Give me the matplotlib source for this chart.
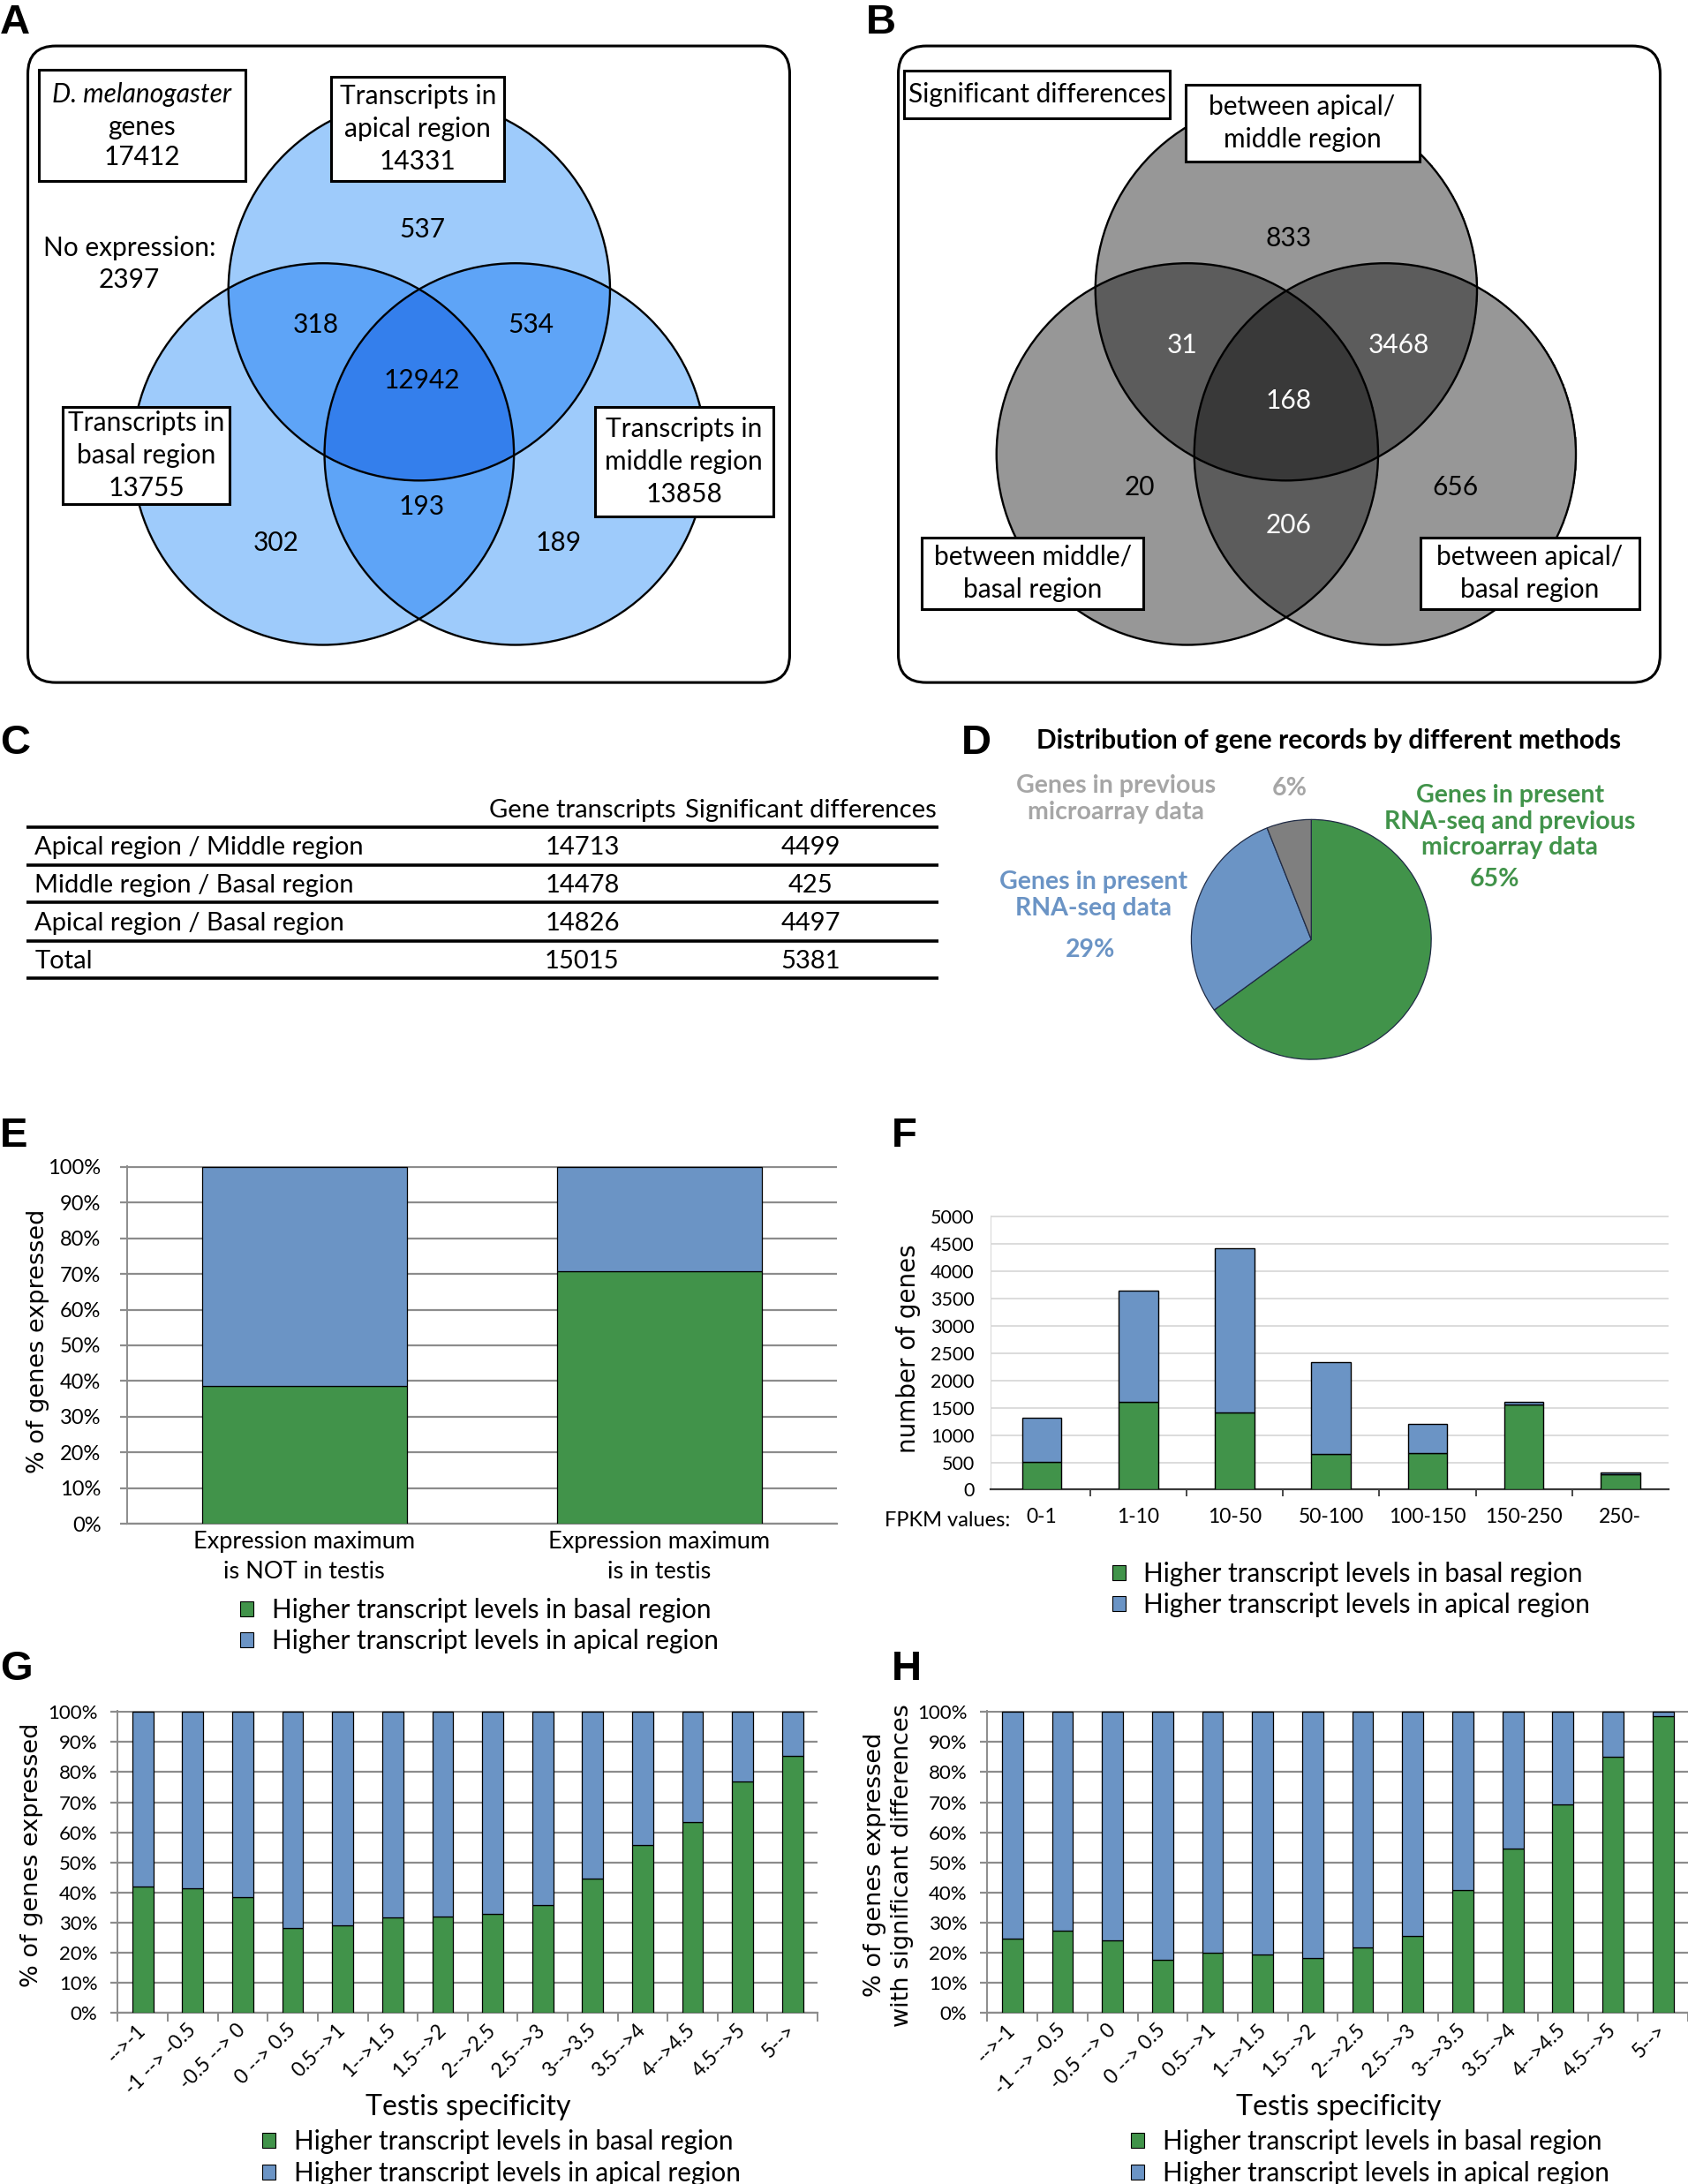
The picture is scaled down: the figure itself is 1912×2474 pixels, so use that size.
import numpy as np
import matplotlib
matplotlib.use('Agg')
import matplotlib.pyplot as plt
from matplotlib.patches import Circle, FancyBboxPatch, Rectangle, Patch
from matplotlib.colors import to_rgba

# layout measured on a 1212 px wide copy of the figure -> one overlay axes in those units
W, H = 1912, 2474
RW, RH = 1212, 1568

plt.rcParams['font.family'] = ['Lato', 'DejaVu Sans']

GREEN = '#41934a'
BLUE = '#6b94c5'
GRAY = '#7f7f7f'

# ---------------- data ----------------
# A: transcripts per region (top = apical, left = basal, right = middle)
a_sets = ['Transcripts in\napical region\n14331',
          'Transcripts in\nbasal region\n13755',
          'Transcripts in\nmiddle region\n13858']
# order: top, top+left, top+right, all, left, left+right, right
a_counts = [537, 318, 534, 12942, 302, 193, 189]
a_genes = 17412
a_none = 2397

# B: significant differences (top = apical/middle, left = middle/basal, right = apical/basal)
b_sets = ['between apical/\nmiddle region',
          'between middle/\nbasal region',
          'between apical/\nbasal region']
b_counts = [833, 31, 3468, 168, 20, 206, 656]

# C: table
c_pairs = ['Apical region / Middle region', 'Middle region / Basal region',
           'Apical region / Basal region', 'Total']
c_transcripts = [14713, 14478, 14826, 15015]
c_significant = [4499, 425, 4497, 5381]

# D: pie
d_labels = ['Genes in present\nRNA-seq and previous\nmicroarray data',
            'Genes in present\nRNA-seq data',
            'Genes in previous\nmicroarray data']
d_shares = [65, 29, 6]

# E
e_cats = ['Expression maximum\nis NOT in testis', 'Expression maximum\nis in testis']
e_basal = [38.5, 70.8]

# F
f_cats = ['0-1', '1-10', '10-50', '50-100', '100-150', '150-250', '250-']
f_basal = [510, 1605, 1415, 650, 670, 1565, 280]
f_apical = [810, 2040, 3005, 1690, 540, 50, 35]

# G / H
spec_bins = ['-->-1', '-1 --> -0.5', '-0.5 --> 0', '0 --> 0.5', '0.5-->1', '1-->1.5',
             '1.5-->2', '2-->2.5', '2.5-->3', '3-->3.5', '3.5-->4', '4-->4.5',
             '4.5-->5', '5-->']
g_basal = [42.0, 41.4, 38.3, 28.2, 29.0, 31.6, 32.0, 33.0, 35.7, 44.6, 55.7, 63.4, 76.8, 85.4]
h_basal = [24.5, 27.4, 24.1, 17.5, 20.0, 19.5, 18.2, 21.8, 25.5, 40.8, 54.5, 69.3, 85.1, 98.7]

leg_labels = ['Higher transcript levels in basal region',
              'Higher transcript levels in apical region']

# ---------------- figure ----------------
fig = plt.figure(figsize=(W / 100, H / 100), dpi=100)
ax0 = fig.add_axes([0, 0, 1, 1])
ax0.set_axis_off()


def px_axes(x0, x1, y_top, y_bot):
    return fig.add_axes([x0 / RW, 1 - y_bot / RH, (x1 - x0) / RW, (y_bot - y_top) / RH])


VS = 21.5  # venn text size
YL = 19.5  # y label size (DejaVu)
LG = 21.4  # legend size


def venn(centers, r, shades, area):
    x0, x1, y0, y1 = area
    xs = np.arange(x0, x1, 0.4)
    ys = np.arange(y0, y1, 0.4)
    xx, yy = np.meshgrid(xs, ys)
    depth = np.zeros(xx.shape, dtype=int)
    for cx, cy in centers:
        depth += ((xx - cx) ** 2 + (yy - cy) ** 2 <= r * r).astype(int)
    img = np.zeros(xx.shape + (4,))
    for k, col in enumerate(shades, start=1):
        img[depth == k] = to_rgba(col)
    ax0.imshow(img, extent=(x0, x1, y1, y0), origin='upper', interpolation='nearest',
               aspect='auto', zorder=1)
    for cx, cy in centers:
        ax0.add_patch(Circle((cx, cy), r, fill=False, ec='black', lw=1.7, zorder=2))


def box(x0, y0, x1, y1, text=None, **kw):
    ax0.add_patch(Rectangle((x0, y0), x1 - x0, y1 - y0, fc='white', ec='black', lw=2.2, zorder=3))
    if text is not None:
        ax0.text((x0 + x1) / 2, (y0 + y1) / 2, text, ha='center', va='center', zorder=4,
                 fontsize=VS, linespacing=1.38, **kw)


def letter(x, y, s):
    ax0.text(x, y, s, fontsize=34, fontweight='bold', family='Liberation Sans',
             ha='left', va='baseline')


# ---- A ----
letter(0, 24, 'A')
ax0.add_patch(FancyBboxPatch((20, 33), 547, 457, boxstyle='round,pad=0,rounding_size=20',
                             fc='none', ec='black', lw=2.2))
venn([(301, 208), (232, 326), (370, 326)], 137,
     ['#9ecbfb', '#5ea4f7', '#347fec'], (85, 520, 60, 475))
a_pos = [(303, 165), (227, 233), (381, 233), (303, 273), (198, 390), (303, 364), (401, 390)]
for (x, y), v in zip(a_pos, a_counts):
    ax0.text(x, y, str(v), ha='center', va='center', fontsize=VS, zorder=4)
box(28, 50, 176, 130)
ax0.text(102, 68, 'D. melanogaster', ha='center', va='center', fontsize=VS, style='italic', zorder=4)
ax0.text(102, 91, 'genes', ha='center', va='center', fontsize=VS, zorder=4)
ax0.text(102, 113, str(a_genes), ha='center', va='center', fontsize=VS, zorder=4)
box(238, 55, 362, 130, a_sets[0])
box(45, 292, 165, 362, a_sets[1])
box(427, 292, 555, 371, a_sets[2])
ax0.text(93, 189.5, 'No expression:\n%d' % a_none, ha='center', va='center', fontsize=VS,
         linespacing=1.32)

# ---- B ----
letter(622, 24, 'B')
ax0.add_patch(FancyBboxPatch((645, 33), 547, 457, boxstyle='round,pad=0,rounding_size=20',
                             fc='none', ec='black', lw=2.2))
venn([(923.5, 208), (852.5, 326), (994.5, 326)], 137,
     ['#979797', '#5c5c5c', '#393939'], (705, 1145, 60, 475))
b_pos = [(925, 171), (849, 248), (1004, 248), (925, 288), (818, 350), (925, 377), (1045, 350)]
b_white = [False, True, True, True, False, True, False]
for (x, y), v, wh in zip(b_pos, b_counts, b_white):
    ax0.text(x, y, str(v), ha='center', va='center', fontsize=VS, zorder=4,
             color='white' if wh else 'black')
box(649, 51, 840, 85, 'Significant differences')
box(851, 61, 1019, 116, b_sets[0])
box(662, 386, 821, 437, b_sets[1])
box(1020, 386, 1177, 437, b_sets[2])

# ---- C ----
letter(0, 541, 'C')
TS = 21
ax0.text(418, 582, 'Gene transcripts', ha='center', va='center', fontsize=TS)
ax0.text(582, 582, 'Significant differences', ha='center', va='center', fontsize=TS)
for yl in [594, 621, 648, 675.5, 702.5]:
    ax0.plot([19, 674], [yl, yl], color='black', lw=2.6, solid_capstyle='butt')
row_y = [608.5, 636, 663, 690]
for y, name, t, s in zip(row_y, c_pairs, c_transcripts, c_significant):
    ax0.text(25, y, name, ha='left', va='center', fontsize=TS)
    ax0.text(418, y, str(t), ha='center', va='center', fontsize=TS)
    ax0.text(582, y, str(s), ha='center', va='center', fontsize=TS)

# ---- D ----
letter(690, 541, 'D')
ax0.text(954, 532, 'Distribution of gene records by different methods', ha='center',
         va='center', fontsize=21.5, fontweight='bold')
axp = px_axes(854.5, 1028.5, 587.5, 761.5)
axp.pie(d_shares, colors=[GREEN, BLUE, GRAY], startangle=90, counterclock=False,
        wedgeprops=dict(edgecolor='#1f2a44', linewidth=0.9))
axp.set_xlim(-1.01, 1.01)
axp.set_ylim(-1.01, 1.01)
PS = 20.5
PL = 1.17
ax0.text(1084, 590, d_labels[0], ha='center', va='center', fontsize=PS, fontweight='bold',
         color=GREEN, linespacing=PL)
ax0.text(1073, 631, '%d%%' % d_shares[0], ha='center', va='center', fontsize=PS,
         fontweight='bold', color=GREEN)
ax0.text(785, 642.5, d_labels[1], ha='center', va='center', fontsize=PS, fontweight='bold',
         color=BLUE, linespacing=PL)
ax0.text(783, 682, '%d%%' % d_shares[1], ha='center', va='center', fontsize=PS,
         fontweight='bold', color=BLUE)
ax0.text(801, 573.5, d_labels[2], ha='center', va='center', fontsize=PS, fontweight='bold',
         color='#a6a6a6', linespacing=PL)
ax0.text(926, 566, '%d%%' % d_shares[2], ha='center', va='center', fontsize=PS,
         fontweight='bold', color='#a6a6a6')


# ---- helpers for the bar panels ----
def legend(ax, x, y, size):
    handles = [Patch(fc=GREEN, ec='black', lw=0.8), Patch(fc=BLUE, ec='black', lw=0.8)]
    ax.legend(handles, leg_labels, loc='upper left', bbox_to_anchor=(x, y),
              bbox_transform=ax0.transData, frameon=False, borderpad=0, borderaxespad=0,
              handlelength=0.5, handleheight=0.5, handletextpad=0.7, labelspacing=0.25,
              fontsize=size)


def pct_panel(ax, cats, basal, width, pad, xsize, ysize):
    x = np.arange(len(cats))
    b = np.asarray(basal) / 100.0
    ax.bar(x, b, width, color=GREEN, edgecolor='black', lw=0.9, zorder=3)
    ax.bar(x, 1 - b, width, bottom=b, color=BLUE, edgecolor='black', lw=0.9, zorder=3)
    ax.set_xlim(-0.5, len(cats) - 0.5)
    ax.set_ylim(0, 1.003)
    ticks = np.arange(0, 11) / 10
    ax.set_yticks(ticks, ['%d%%' % (10 * i) for i in range(11)])
    ax.yaxis.grid(True, color='#8c8c8c', lw=1.6, zorder=0)
    ax.set_axisbelow(True)
    for s in ['top', 'right']:
        ax.spines[s].set_visible(False)
    ax.spines['left'].set_color('#8c8c8c')
    ax.spines['bottom'].set_color('#8c8c8c')
    ax.spines['left'].set_linewidth(1.4)
    ax.spines['bottom'].set_linewidth(1.6)
    ax.tick_params(axis='y', length=6, width=1.6, color='#8c8c8c', pad=pad, labelsize=ysize)
    ax.tick_params(axis='x', labelsize=xsize)
    return x


# ---- E ----
letter(0, 823, 'E')
axE = px_axes(91, 601, 837, 1094)
xE = pct_panel(axE, e_cats, e_basal, 0.576, 15, 19.5, 17)
axE.set_xticks(xE, e_cats)
axE.tick_params(axis='x', length=0, pad=6)
for t in axE.get_xticklabels():
    t.set_linespacing(1.42)
ax0.text(27, 963, '% of genes expressed', rotation=90, ha='center', va='center',
         fontsize=YL, family='DejaVu Sans')
legend(axE, 172.5, 1147, LG)

# ---- F ----
letter(640, 823, 'F')
axF = px_axes(711, 1198, 873, 1069.5)
xF = np.arange(len(f_cats))
axF.bar(xF, f_basal, 0.41, color=GREEN, edgecolor='black', lw=1.0, zorder=3)
axF.bar(xF, f_apical, 0.41, bottom=f_basal, color=BLUE, edgecolor='black', lw=1.0, zorder=3)
axF.set_xlim(-0.535, 6.5)
axF.set_ylim(0, 5010)
axF.set_yticks(np.arange(0, 5001, 500))
axF.yaxis.grid(True, color='#d9d9d9', lw=1.3, zorder=0)
axF.set_axisbelow(True)
for s in ['top', 'right']:
    axF.spines[s].set_visible(False)
axF.spines['left'].set_color('#d9d9d9')
axF.spines['bottom'].set_color('#3a3a3a')
axF.spines['bottom'].set_linewidth(1.6)
axF.set_xticks(xF, f_cats)
axF.set_xticks(xF[:-1] + 0.5, minor=True)
axF.tick_params(axis='x', which='major', length=0, pad=15, labelsize=16.5)
axF.tick_params(axis='x', which='minor', length=6, width=1.3, color='#3a3a3a')
axF.tick_params(axis='y', length=0, pad=13, labelsize=15.5)
ax0.text(680, 1091.5, 'FPKM values:', ha='center', va='center', fontsize=17)
ax0.text(652, 968, 'number of genes', rotation=90, ha='center', va='center',
         fontsize=20, family='DejaVu Sans')
legend(axF, 798.5, 1121, LG)


# ---- G / H ----
def spec_panel(ax, basal):
    x = pct_panel(ax, spec_bins, basal, 0.42, 10.5, 16.5, 16)
    ax.set_xticks(x, spec_bins, rotation=45, ha='right', va='center', rotation_mode='anchor')
    ax.set_xticks(np.arange(-0.5, len(spec_bins)), minor=True)
    ax.tick_params(axis='x', which='major', length=0, pad=12)
    ax.tick_params(axis='x', which='minor', length=7, width=1.4, color='#8c8c8c')


letter(0, 1206, 'G')
axG = px_axes(84.6, 587, 1228.5, 1445)
spec_panel(axG, g_basal)
ax0.text(336, 1513, 'Testis specificity', ha='center', va='center', fontsize=23)
ax0.text(23, 1332, '% of genes expressed', rotation=90, ha='center', va='center',
         fontsize=YL, family='DejaVu Sans')
legend(axG, 188.5, 1529, LG)

letter(640, 1206, 'H')
axH = px_axes(709, 1212, 1228.5, 1445)
spec_panel(axH, h_basal)
ax0.text(961, 1513, 'Testis specificity', ha='center', va='center', fontsize=23)
ax0.text(638, 1339, '% of genes expressed\nwith significant differences', rotation=90,
         ha='center', va='center', fontsize=YL, family='DejaVu Sans', linespacing=1.27)
legend(axH, 812, 1529, LG)

ax0.set_xlim(0, RW)
ax0.set_ylim(RH, 0)

fig.savefig('out.png', dpi=100)
